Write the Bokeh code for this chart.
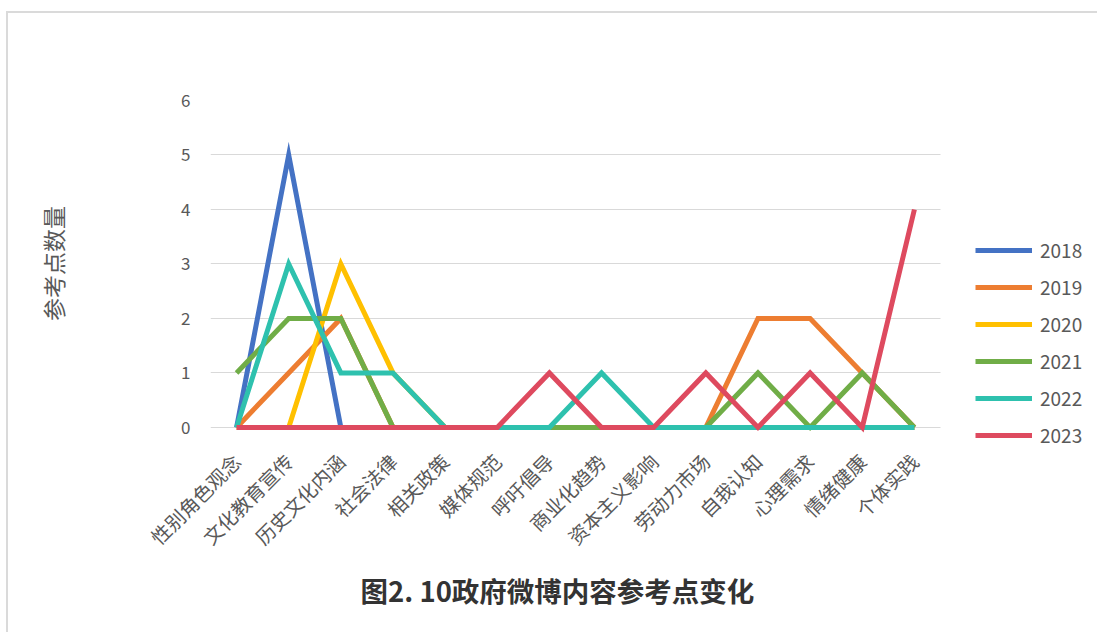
from math import pi
from bokeh.plotting import figure
from bokeh.models import Range1d, Legend, LegendItem, Title, SingleIntervalTicker, FixedTicker
from bokeh.embed import file_html
from bokeh.resources import INLINE

categories = ["性别角色观念", "文化教育宣传", "历史文化内涵", "社会法律", "相关政策", "媒体规范",
              "呼吁倡导", "商业化趋势", "资本主义影响", "劳动力市场", "自我认知", "心理需求",
              "情绪健康", "个体实践"]
years = ["2018", "2019", "2020", "2021", "2022", "2023"]
v2018 = [0, 5, 0, 0, 0, 0, 0, 0, 0, 0, 0, 0, 0, 0]
v2019 = [0, 1, 2, 0, 0, 0, 0, 0, 0, 0, 2, 2, 1, 0]
v2020 = [0, 0, 3, 1, 0, 0, 0, 0, 0, 0, 0, 0, 0, 0]
v2021 = [1, 2, 2, 0, 0, 0, 0, 0, 0, 0, 1, 0, 1, 0]
v2022 = [0, 3, 1, 1, 0, 0, 0, 1, 0, 0, 0, 0, 0, 0]
v2023 = [0, 0, 0, 0, 0, 0, 1, 0, 0, 1, 0, 1, 0, 4]
series = [v2018, v2019, v2020, v2021, v2022, v2023]
colors = ["#4472C4", "#ED7D31", "#FFC000", "#70AD47", "#2EC1AE", "#DE4A5F"]

FONT = "Noto Sans CJK SC"
xs = list(range(len(categories)))
n = len(categories)

p = figure(width=1091, height=621, x_range=Range1d(-0.5, 16.55),
           y_range=Range1d(-0.405, 6), output_backend="svg", toolbar_location=None,
           min_border_left=202, min_border_right=0, min_border_top=87,
           min_border_bottom=185, margin=(11, 0, 0, 6))
p.styles = {"border-left": "2px solid #dadada", "border-top": "2px solid #dadada"}
p.outline_line_color = None
p.background_fill_color = "white"
p.border_fill_color = "white"

renderers = []
for yr, vals, c in zip(years, series, colors):
    r = p.line(xs, vals, line_color=c, line_width=5, line_join="miter")
    renderers.append((yr, r))

p.xgrid.grid_line_color = None
p.ygrid.grid_line_color = "#d9d9d9"
p.ygrid.grid_line_width = 1
p.ygrid.cross_bounds = (-0.5, n - 0.5)
p.yaxis.ticker = SingleIntervalTicker(interval=1)
p.yaxis.axis_line_color = None
p.yaxis.major_tick_line_color = None
p.yaxis.minor_tick_line_color = None
p.yaxis.major_label_text_font = FONT
p.yaxis.major_label_text_font_size = "17px"
p.yaxis.major_label_text_color = "#595959"
p.yaxis.major_label_standoff = 14
p.yaxis.axis_label = "　参考点数量"
p.yaxis.axis_label_text_font = FONT
p.yaxis.axis_label_text_font_size = "23px"
p.yaxis.axis_label_text_font_style = "normal"
p.yaxis.axis_label_text_color = "#595959"
p.yaxis.axis_label_standoff = 108

p.xaxis.ticker = FixedTicker(ticks=xs)
p.xaxis.major_label_overrides = {i: c for i, c in zip(xs, categories)}
p.xaxis.axis_line_color = None
p.xaxis.major_tick_line_color = None
p.xaxis.minor_tick_line_color = None
p.xaxis.major_label_orientation = pi / 4
p.xaxis.major_label_text_font = FONT
p.xaxis.major_label_text_font_size = "19.5px"
p.xaxis.major_label_text_color = "#595959"
p.xaxis.major_label_standoff = 2

legend = Legend(items=[LegendItem(label=yr, renderers=[r]) for yr, r in renderers],
                location=(765, 1), padding=0, margin=0, spacing=10,
                glyph_width=57, glyph_height=20, label_height=20, label_standoff=8,
                label_text_font=FONT, label_text_font_size="19px",
                label_text_color="#595959", border_line_color=None,
                background_fill_alpha=0)
p.add_layout(legend, "center")

p.add_layout(Title(text="图2. 10政府微博内容参考点变化", align="left", offset=150,
                   standoff=8, text_font=FONT, text_font_size="27.5px",
                   text_font_style="bold", text_color="#333333"), "below")

open("out.html", "w").write(file_html(p, INLINE))
